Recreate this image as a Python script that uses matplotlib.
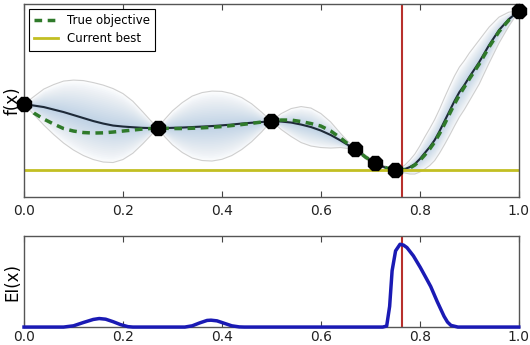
import numpy as np
import matplotlib
matplotlib.use("Agg")
import matplotlib.pyplot as plt

# Posterior / objective sampled on a common grid
x_grid = [0.0, 0.02, 0.04, 0.06, 0.08, 0.10, 0.12, 0.14, 0.16, 0.18, 0.20, 0.22,
          0.24, 0.255, 0.27, 0.285, 0.30, 0.32, 0.34, 0.36, 0.38, 0.40, 0.42, 0.44,
          0.46, 0.48, 0.50, 0.52, 0.54, 0.56, 0.58, 0.60, 0.62, 0.64, 0.655, 0.67,
          0.68, 0.69, 0.70, 0.71, 0.72, 0.73, 0.74, 0.75, 0.76, 0.77, 0.78, 0.79,
          0.80, 0.81, 0.82, 0.83, 0.84, 0.85, 0.86, 0.87, 0.88, 0.89, 0.90, 0.92,
          0.94, 0.96, 0.98, 1.0]

gp_mean = [1.32, 1.29, 1.26, 1.21, 1.16, 1.10, 1.04, 0.98, 0.93, 0.89, 0.87, 0.856,
           0.844, 0.84, 0.84, 0.84, 0.844, 0.85, 0.86, 0.87, 0.88, 0.894, 0.91, 0.93,
           0.946, 0.96, 0.98, 0.97, 0.95, 0.91, 0.86, 0.79, 0.70, 0.59, 0.50, 0.42,
           0.34, 0.26, 0.20, 0.14, 0.09, 0.05, 0.02, 0.0, 0.004, 0.02, 0.06, 0.12,
           0.22, 0.34, 0.46, 0.60, 0.78, 0.98, 1.18, 1.38, 1.56, 1.70, 1.86, 2.16,
           2.50, 2.80, 3.02, 3.18]

gp_std = [0.0, 0.09, 0.18, 0.25, 0.31, 0.35, 0.375, 0.385, 0.385, 0.37, 0.33, 0.26,
          0.16, 0.08, 0.0, 0.09, 0.17, 0.25, 0.31, 0.34, 0.35, 0.34, 0.31, 0.26,
          0.19, 0.10, 0.0, 0.08, 0.14, 0.18, 0.19, 0.17, 0.13, 0.07, 0.035, 0.0,
          0.015, 0.02, 0.015, 0.0, 0.01, 0.015, 0.01, 0.0, 0.015, 0.04, 0.07, 0.10,
          0.13, 0.16, 0.185, 0.205, 0.22, 0.235, 0.245, 0.25, 0.25, 0.245, 0.24, 0.22,
          0.18, 0.13, 0.07, 0.0]

true_objective = [1.32, 1.14, 1.02, 0.92, 0.83, 0.78, 0.75, 0.74, 0.744, 0.76, 0.78, 0.80,
                  0.82, 0.83, 0.84, 0.836, 0.83, 0.83, 0.836, 0.844, 0.856, 0.87, 0.89, 0.91,
                  0.934, 0.96, 0.98, 1.0, 1.0, 0.97, 0.93, 0.88, 0.78, 0.64, 0.52, 0.42,
                  0.34, 0.26, 0.20, 0.14, 0.09, 0.05, 0.02, 0.0, 0.0, 0.01, 0.04, 0.10,
                  0.19, 0.30, 0.42, 0.56, 0.73, 0.92, 1.12, 1.32, 1.50, 1.66, 1.82, 2.12,
                  2.46, 2.77, 3.00, 3.18]

# Evaluated points
obs_x = [0.0, 0.27, 0.50, 0.67, 0.71, 0.75, 1.0]
obs_y = [1.32, 0.84, 0.98, 0.42, 0.14, 0.0, 3.18]

current_best = 0.0
next_x = 0.764

# Expected improvement
ei_x = [0.0, 0.08, 0.10, 0.12, 0.14, 0.152, 0.165, 0.18, 0.195, 0.21, 0.22,
        0.325, 0.34, 0.355, 0.37, 0.378, 0.39, 0.405, 0.42, 0.435, 0.445,
        0.725, 0.733, 0.739, 0.744, 0.751, 0.760, 0.767, 0.774, 0.787, 0.801,
        0.812, 0.822, 0.835, 0.849, 0.856, 0.863, 0.877, 1.0]
ei_y = [0.0, 0.0, 0.015, 0.055, 0.092, 0.103, 0.095, 0.065, 0.03, 0.005, 0.0,
        0.0, 0.015, 0.05, 0.08, 0.083, 0.075, 0.045, 0.015, 0.002, 0.0,
        0.0, 0.012, 0.25, 0.68, 0.92, 1.0, 0.99, 0.96, 0.86, 0.72,
        0.60, 0.49, 0.31, 0.13, 0.06, 0.02, 0.0, 0.0]

xticks = [0.0, 0.2, 0.4, 0.6, 0.8, 1.0]
xticklabels = ["0.0", "0.2", "0.4", "0.6", "0.8", "1.0"]

plt.rcParams["font.family"] = ["DejaVu Sans"]

fig = plt.figure(figsize=(5.3, 3.45), dpi=100)
ax1 = fig.add_axes([0.0453, 0.429, 0.9335, 0.559])
ax2 = fig.add_axes([0.0453, 0.052, 0.9335, 0.264])

xg = np.array(x_grid)
mu = np.array(gp_mean)
sd = np.array(gp_std)

# Gradient shading of the posterior band
n_levels = 20
for i in range(1, n_levels + 1):
    k = 2.0 * i / n_levels
    ax1.fill_between(xg, mu - k * sd, mu + k * sd, color="#5a8cc0",
                     alpha=0.018, linewidth=0)
ax1.plot(xg, mu + 2 * sd, color="#cfcfcf", lw=0.8)
ax1.plot(xg, mu - 2 * sd, color="#cfcfcf", lw=0.8)

ax1.plot(xg, mu, color="#1e2a38", lw=1.5)
ax1.plot(xg, true_objective, color="#2f7a2a", lw=2.5, ls=(0, (2.2, 1.6)),
         label="True objective")
ax1.axhline(current_best, color="#c2bf22", lw=2, label="Current best")
ax1.plot(obs_x, obs_y, ls="none", marker="8", ms=11.5, color="black",
         clip_on=False, zorder=5)
ax1.axvline(next_x, color="#b8302c", lw=1.5)

ax1.set_xlim(0, 1)
ax1.set_ylim(-0.54, 3.32)
ax1.set_yticks([])
ax1.set_ylabel("f(x)", fontsize=12, labelpad=2)
leg = ax1.legend(loc="upper left", fontsize=8.5, fancybox=False, framealpha=1,
                 handlelength=2.0, borderaxespad=0.4, labelspacing=0.45,
                 borderpad=0.45)
leg.get_frame().set_edgecolor("black")
leg.get_frame().set_linewidth(0.8)

ax2.plot(ei_x, ei_y, color="#1a1ab4", lw=2.5, clip_on=False, zorder=3)
ax2.axvline(next_x, color="#b8302c", lw=1.5)
ax2.set_xlim(0, 1)
ax2.set_ylim(0, 1.1)
ax2.set_yticks([])
ax2.set_ylabel("EI(x)", fontsize=12, labelpad=2)

for ax, pad in ((ax1, 5), (ax2, 2)):
    ax.set_xticks(xticks)
    ax.set_xticklabels(xticklabels)
    ax.tick_params(axis="x", direction="in", top=True, bottom=True,
                   labelsize=10, length=4, width=0.8, colors="#444444",
                   labelcolor="#222222", pad=pad)
    for s in ax.spines.values():
        s.set_color("#555555")
        s.set_linewidth(1.0)

fig.savefig("out.png", dpi=100)
